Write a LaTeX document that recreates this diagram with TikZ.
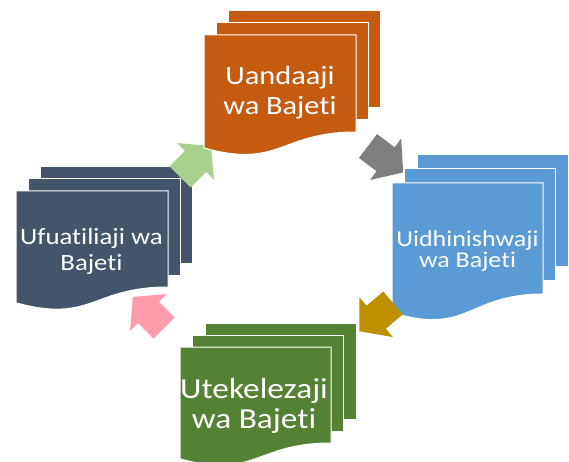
\documentclass[tikz,border=0pt]{standalone}
\usepackage{fontspec}
\newfontfamily\boxfont[FakeStretch=1.15,Ligatures={NoCommon,NoRare}]{Carlito}
\definecolor{cOrange}{HTML}{C55A11}
\definecolor{cNavy}{HTML}{44546A}
\definecolor{cBlue}{HTML}{5B9BD5}
\definecolor{cGreen}{HTML}{548235}
\definecolor{aGray}{HTML}{7F7F7F}
\definecolor{aLight}{HTML}{A9D18E}
\definecolor{aGold}{HTML}{BF9000}
\definecolor{aPink}{HTML}{FF9CAC}
\tikzset{
  sheet/.style={fill=#1, draw=white, line width=1pt},
  blockarrow/.style={fill=#1, draw=none},
  boxlabel/.style={text=white, inner sep=0pt, anchor=base}
}
% #1 colour, #2 front left x, #3 front top y, #4 width, #5 height, #6 dx, #7 dy
\newcommand\docstack[7]{%
  \path[sheet=#1] ({#2+2*#6},{#3-2*#7}) rectangle ++(#4,#5);
  \path[sheet=#1] ({#2+#6},{#3-#7}) rectangle ++(#4,#5);
  \path[sheet=#1] (#2,#3) -- ({#2+#4},#3) -- ({#2+#4},{#3+#5})
     .. controls ({#2+#4/2},{#3+#5}) and ({#2+#4/2},{#3+1.38*#5}) .. (#2,{#3+1.165*#5}) -- cycle;
}
% #1 colour, #2 x, #3 y (back centre), #4 angle
\newcommand\fatarrow[4]{%
  \path[blockarrow=#1, shift={(#2,#3)}, rotate=#4]
    (0,-15) -- (22,-15) -- (22,-26) -- (44,0) -- (22,26) -- (22,15) -- (0,15) -- cycle;
}
\begin{document}
\begin{tikzpicture}[x=1pt,y=-1pt]
\useasboundingbox (0,0) rectangle (569,462);
\clip (0,0) rectangle (569,462);
% left stack (navy)
\docstack{cNavy}{16}{191}{152}{96}{12}{12}
\node[boxlabel] (monitor) at (91.5,244) {\fontsize{23.3}{26}\selectfont\boxfont\begin{tabular}[t]{@{}c@{}}Ufuatiliaji wa\\Bajeti\end{tabular}};
\fatarrow{aLight}{180}{177}{45}
% top stack (orange)
\docstack{cOrange}{204}{35}{152}{97}{12}{12}
\node[boxlabel] (prepare) at (280,85) {\fontsize{26.4}{30}\selectfont\boxfont\begin{tabular}[t]{@{}c@{}}Uandaaji\\wa Bajeti\end{tabular}};
\fatarrow{aGray}{368}{146}{-37}
% right stack (blue)
\docstack{cBlue}{392}{183}{151}{111}{12.5}{14}
\node[boxlabel] (approve) at (467.5,246) {\fontsize{22.6}{21}\selectfont\boxfont\begin{tabular}[t]{@{}c@{}}Uidhinishwaji\\wa Bajeti\end{tabular}};
\fatarrow{aGold}{393}{303}{-140}
% bottom stack (green)
\docstack{cGreen}{180}{347}{151}{96}{12.5}{12}
\node[boxlabel] (implement) at (254,398) {\fontsize{29}{30}\selectfont\boxfont\begin{tabular}[t]{@{}c@{}}Utekelezaji\\wa Bajeti\end{tabular}};
\fatarrow{aPink}{164}{328}{135}
\end{tikzpicture}
\end{document}
